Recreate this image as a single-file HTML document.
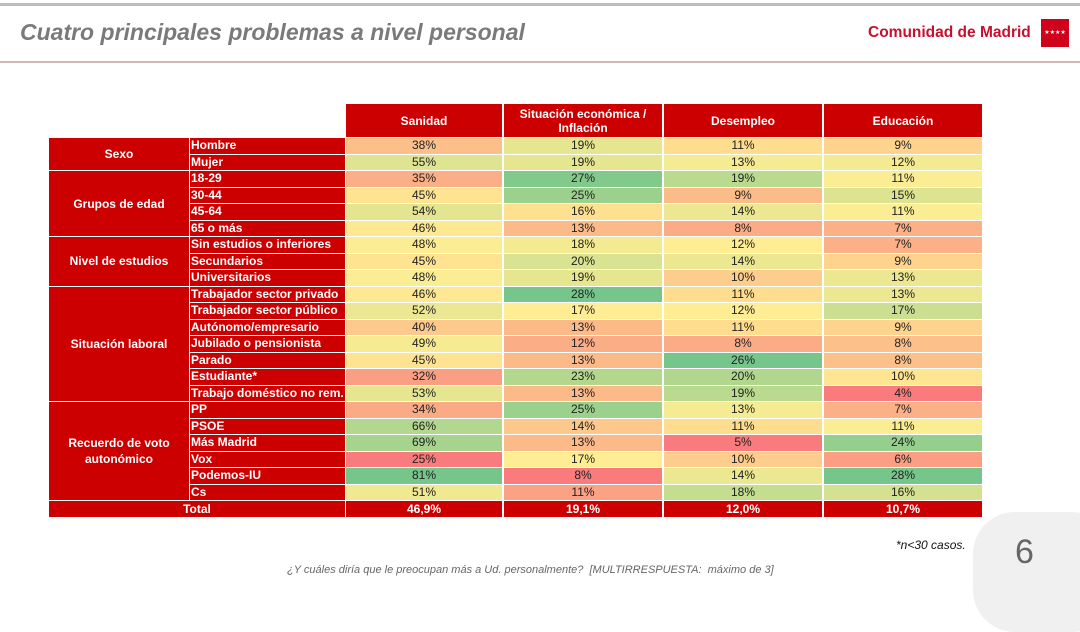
<!DOCTYPE html>
<html><head><meta charset="utf-8">
<style>
body{margin:0;width:1080px;height:602px;background:#fff;position:relative;overflow:hidden;font-family:"Liberation Sans","DejaVu Sans",sans-serif}
.abs{position:absolute;box-sizing:border-box}
.cell{position:absolute;box-sizing:border-box;font-size:12px;line-height:16px;text-align:center;color:#222}
.red{background:#cc0000;color:#fff;font-weight:bold}
</style></head><body>
<div class="abs" style="left:0;top:3px;width:1080px;height:3px;background:#bdbdbd"></div>
<div class="abs" style="left:20px;top:19px;font-size:23px;font-style:italic;font-weight:bold;color:#7a7a7a">Cuatro principales problemas a nivel personal</div>
<div class="abs" style="left:868px;top:24px;font-size:15.5px;font-weight:bold;color:#c8102e">Comunidad de Madrid</div>
<div class="abs" style="left:1041px;top:19px;width:28px;height:28px;background:#d0021b;color:#fff;font-size:6px;text-align:center;line-height:28px">★★★★</div>
<div class="abs" style="left:0;top:61px;width:1080px;height:2px;background:#d4b8b8"></div>
<div id="tbl"></div>
<div class="abs" style="left:896px;top:538px;font-size:12px;font-style:italic;color:#111">*n&lt;30 casos.</div>
<div class="abs" style="left:287px;top:564px;font-size:11px;font-style:italic;color:#666">¿Y cuáles diría que le preocupan más a Ud. personalmente?&nbsp; [MULTIRRESPUESTA:&nbsp; máximo de 3]</div>
<div class="abs" style="left:973px;top:512px;width:140px;height:120px;border-radius:42px;background:#f0f0f0"></div>
<div class="abs" style="left:1015px;top:533px;font-size:34px;color:#666">6</div>
<script>
const columns=["Sanidad","Situación económica /<br>Inflación","Desempleo","Educación"];
const groups=[["Sexo",2],["Grupos de edad",4],["Nivel de estudios",3],["Situación laboral",7],["Recuerdo de voto<br>autonómico",6]];
const rowsLabels=["Hombre","Mujer","18-29","30-44","45-64","65 o más","Sin estudios o inferiores","Secundarios","Universitarios","Trabajador sector privado","Trabajador sector público","Autónomo/empresario","Jubilado o pensionista","Parado","Estudiante*","Trabajo doméstico no rem.","PP","PSOE","Más Madrid","Vox","Podemos-IU","Cs"];
const sanidad=[38,55,35,45,54,46,48,45,48,46,52,40,49,45,32,53,34,66,69,25,81,51];
const situacion=[19,19,27,25,16,13,18,20,19,28,17,13,12,13,23,13,25,14,13,17,8,11];
const desempleo=[11,13,19,9,14,8,12,14,10,11,12,11,8,26,20,19,13,11,5,10,14,18];
const educacion=[9,12,11,15,11,7,7,9,13,13,17,9,8,8,10,4,7,11,24,6,28,16];
const totals=["46,9%","19,1%","12,0%","10,7%"];
const series=[sanidad,situacion,desempleo,educacion];
const colX=[346,504,664,824],colW=[156,158,158,158];
const top0=138,rh=16.5;
const T=document.getElementById('tbl');
function mk(cls,x,y,w,h,html){const d=document.createElement('div');d.className=cls;d.style.left=x+'px';d.style.top=y+'px';d.style.width=w+'px';d.style.height=h+'px';d.innerHTML=html;T.appendChild(d);return d;}
function mix(a,b,t){return a.map((v,i)=>Math.round(v+(b[i]-v)*t));}
const R=[248,105,107],Y=[255,235,132],G=[99,190,123];
function color(v,arr){const s=[...arr].sort((a,b)=>a-b);const mn=s[0],mx=s[s.length-1];const n=s.length;const md=n%2?s[(n-1)/2]:(s[n/2-1]+s[n/2])/2;let c;if(v<=md)c=mix(R,Y,md===mn?1:(v-mn)/(md-mn));else c=mix(Y,G,(v-md)/(mx-md));c=mix(c,[255,255,255],0.12);return 'rgb('+c.join(',')+')';}
columns.forEach((c,i)=>{const d=mk('cell red',colX[i],104,colW[i],33,c);d.style.lineHeight='14px';d.style.display='flex';d.style.alignItems='center';d.style.justifyContent='center';

});
let r=0;
groups.forEach(g=>{const y=top0+r*rh,h=g[1]*rh;const d=mk('cell red',49,y,140,h-1,g[0]);d.style.display='flex';d.style.alignItems='center';d.style.justifyContent='center';d.style.lineHeight='16px';


r+=g[1];});
rowsLabels.forEach((l,i)=>{const y=top0+i*rh;const d=mk('cell red',190,y,155,rh-1,l);d.style.textAlign='left';d.style.paddingLeft='1px';d.style.lineHeight='15px';


series.forEach((s,j)=>{const c=mk('cell',colX[j],y,colW[j],rh-1,s[i]+'%');c.style.background=color(s[i],s);c.style.lineHeight='15px';

});});
const ty=top0+22*rh;
const tl=mk('cell red',49,ty,296,16,'Total');tl.style.lineHeight='16px';


totals.forEach((t,j)=>{const c=mk('cell red',colX[j],ty,colW[j],16,t);c.style.lineHeight='16px';

});
</script>
</body></html>
